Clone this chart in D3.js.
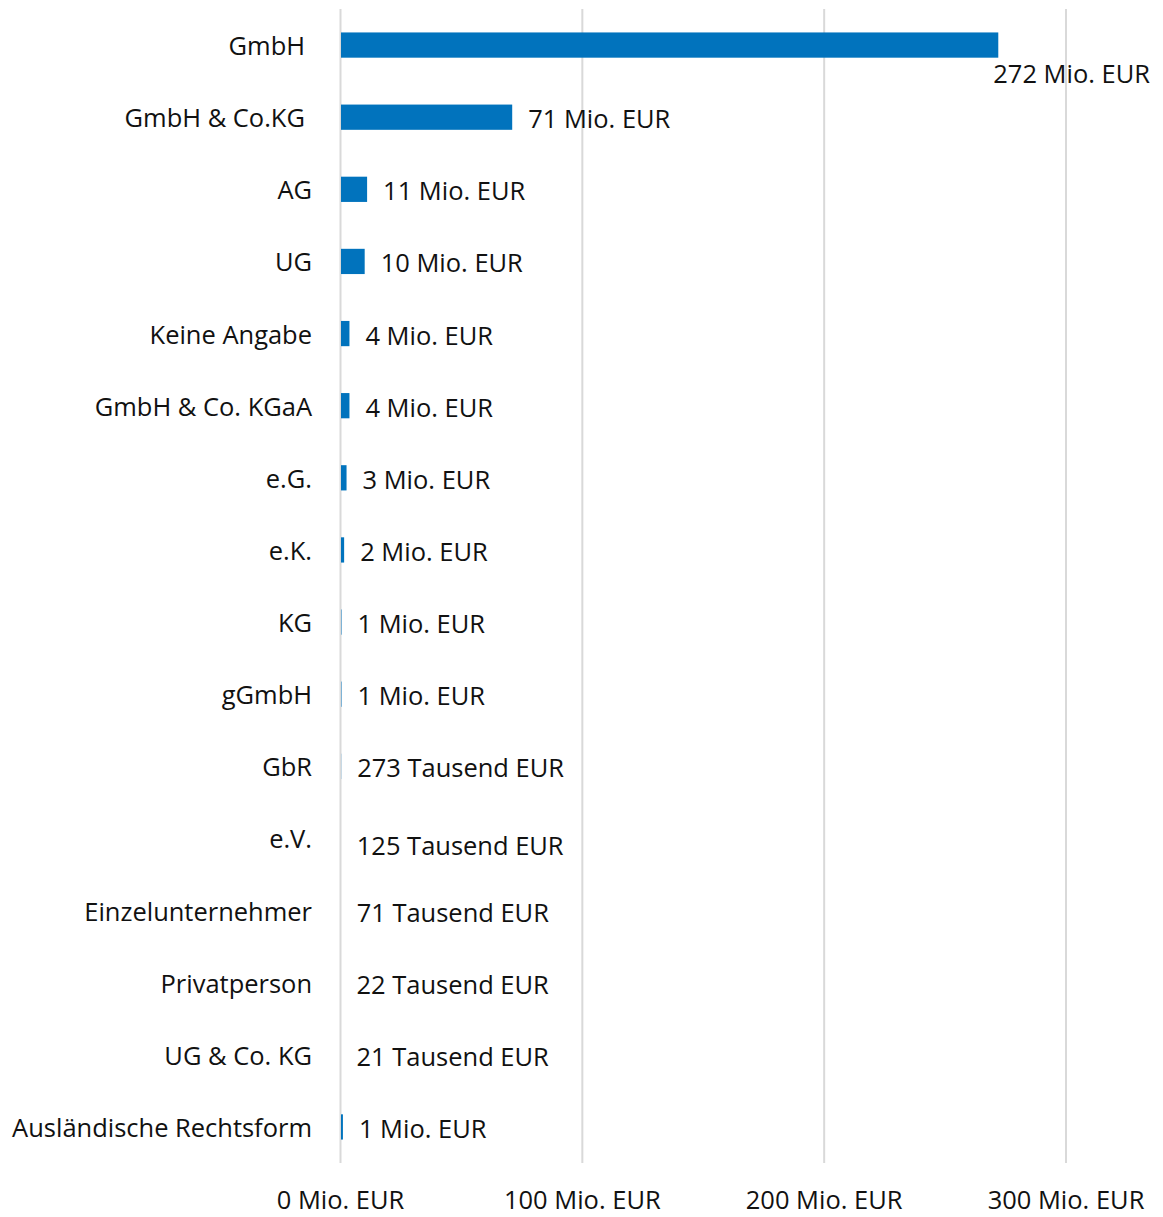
<!DOCTYPE html>
<html>
<head>
<meta charset="utf-8">
<script src="https://cdn.jsdelivr.net/npm/d3@7"></script>
<style>
  html, body { margin: 0; padding: 0; background: #fff; overflow: hidden; }
  text { font-family: "Open Sans", "Noto Sans", sans-serif; fill: #111; }
</style>
</head>
<body>
<svg id="chart" width="1163" height="1217"></svg>
<script>
const categories = ["GmbH", "GmbH & Co.KG", "AG", "UG", "Keine Angabe", "GmbH & Co. KGaA", "e.G.", "e.K.", "KG", "gGmbH", "GbR", "e.V.", "Einzelunternehmer", "Privatperson", "UG & Co. KG", "Ausländische Rechtsform"];
const valuesMio = [272, 71, 11, 10, 3.7, 3.7, 2.5, 1.5, 0.4, 0.4, 0.273, 0.125, 0.071, 0.022, 0.021, 1.0];
const valueLabels = ["272 Mio. EUR", "71 Mio. EUR", "11 Mio. EUR", "10 Mio. EUR", "4 Mio. EUR", "4 Mio. EUR", "3 Mio. EUR", "2 Mio. EUR", "1 Mio. EUR", "1 Mio. EUR", "273 Tausend EUR", "125 Tausend EUR", "71 Tausend EUR", "22 Tausend EUR", "21 Tausend EUR", "1 Mio. EUR"];
const tickValues = [0, 100, 200, 300];
const tickLabels = ["0 Mio. EUR", "100 Mio. EUR", "200 Mio. EUR", "300 Mio. EUR"];

const svg = d3.select("#chart");
const plotTop = 9, plotBottom = 1163;

// fit font size so the longest category label spans ~300px, as in the reference
const probe = svg.append("text").attr("font-size", 24).text("Ausländische Rechtsform");
const w24 = probe.node().getComputedTextLength();
probe.remove();
const fontSize = Math.max(18, Math.min(30, 24 * 300 / w24));

const x = d3.scaleLinear().domain([0, 300]).range([340.5, 1066]);
const y = d3.scaleBand().domain(categories).range([plotTop, plotBottom]).paddingInner(0.65).paddingOuter(0.325);

// gridlines
svg.append("g").selectAll("line").data(tickValues).join("line")
  .attr("x1", d => x(d)).attr("x2", d => x(d))
  .attr("y1", plotTop).attr("y2", plotBottom)
  .attr("stroke", "#d9d9d9").attr("stroke-width", 2);

// bars
svg.append("g").selectAll("rect").data(categories).join("rect")
  .attr("x", x(0) + 0.5)
  .attr("y", d => y(d))
  .attr("height", y.bandwidth())
  .attr("width", (d, i) => Math.max(0, x(valuesMio[i]) - x(0) - 0.5))
  .attr("fill", "#0173bd");

// category labels
const catDx = {"GmbH": -7, "GmbH & Co.KG": -7};
svg.append("g").selectAll("text").data(categories).join("text")
  .attr("x", d => 312 + (catDx[d] || 0))
  .attr("y", d => y(d) + y.bandwidth() / 2)
  .attr("text-anchor", "end")
  .attr("dominant-baseline", "central")
  .attr("font-size", fontSize)
  .text(d => d);

// value labels
svg.append("g").selectAll("text").data(categories).join("text")
  .attr("x", (d, i) => i === 0 ? x(valuesMio[i]) - 5 : x(valuesMio[i]) + 16)
  .attr("y", (d, i) => {
    const c = y(d) + y.bandwidth() / 2;
    if (i === 0) return c + 28;
    if (d === "e.V.") return c + 7;
    return c + 1;
  })
  .attr("dominant-baseline", "central")
  .attr("font-size", fontSize)
  .text((d, i) => valueLabels[i]);

// x axis tick labels
svg.append("g").selectAll("text").data(tickValues).join("text")
  .attr("x", d => x(d))
  .attr("y", 1199)
  .attr("text-anchor", "middle")
  .attr("dominant-baseline", "central")
  .attr("font-size", fontSize)
  .text((d, i) => tickLabels[i]);
</script>
</body>
</html>
